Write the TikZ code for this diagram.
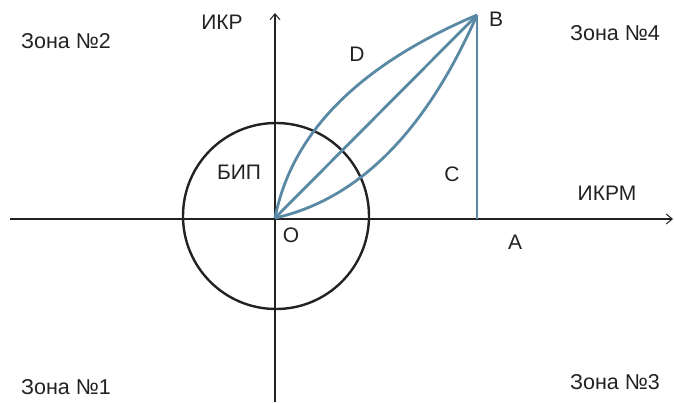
\documentclass[tikz,border=0pt]{standalone}
\usepackage{fontspec}
\setmainfont{Liberation Sans}
\usetikzlibrary{arrows.meta}
\definecolor{curveblue}{HTML}{5A89A5}
\definecolor{axisgray}{HTML}{222222}
\tikzset{
  axisline/.style={draw=axisgray, line width=1.1pt, -{Straight Barb[length=6pt,width=10pt,line width=1pt]}},
  bluecurve/.style={draw=curveblue, line width=2.8pt},
  zonelabel/.style={font=\fontsize{21.5pt}{24pt}\selectfont, text=axisgray, inner sep=0pt},
  ptlabel/.style={font=\fontsize{21pt}{24pt}\selectfont, text=axisgray, inner sep=0pt}
}
\begin{document}
\begin{tikzpicture}[x=1pt,y=-1pt]
\useasboundingbox (0,0) rectangle (674,402);
\coordinate (O) at (275,218);
\coordinate (B) at (477,15);
\coordinate (A) at (477,219);
\coordinate (xl) at (10,219);
\coordinate (xr) at (673,219);
\coordinate (yb) at (275,402);
\coordinate (yt) at (275,13);
\coordinate (ctr) at (276,216);
% axes
\draw[axisline] (xl) -- (xr);
\draw[axisline] (yb) -- (yt);
% circle
\draw[draw=axisgray, line width=2.4pt] (ctr) circle (93);
% blue curves
\draw[bluecurve] (O) .. controls (291.7,132.7) and (359,65) .. (B);
\draw[bluecurve] (O) -- (B);
\draw[bluecurve] (O) .. controls (358.3,199.3) and (425.7,131.7) .. (B);
\draw[bluecurve, line cap=butt] (B) -- (A);
% labels
\node[ptlabel] (ikr) at (222,22) {ИКР};
\node[zonelabel] (z2) at (66,41) {Зона №2};
\node[ptlabel] (bip) at (239,172) {БИП};
\node[ptlabel] (D) at (357,54) {D};
\node[ptlabel] (Bl) at (496,19) {B};
\node[zonelabel] (z4) at (615,33) {Зона №4};
\node[ptlabel] (C) at (452,174) {C};
\node[ptlabel] (ikrm) at (607,193) {ИКРМ};
\node[ptlabel] (Ol) at (291,235) {O};
\node[ptlabel] (Al) at (515,242) {A};
\node[zonelabel] (z1) at (66,387) {Зона №1};
\node[zonelabel] (z3) at (615,382) {Зона №3};
\end{tikzpicture}
\end{document}
